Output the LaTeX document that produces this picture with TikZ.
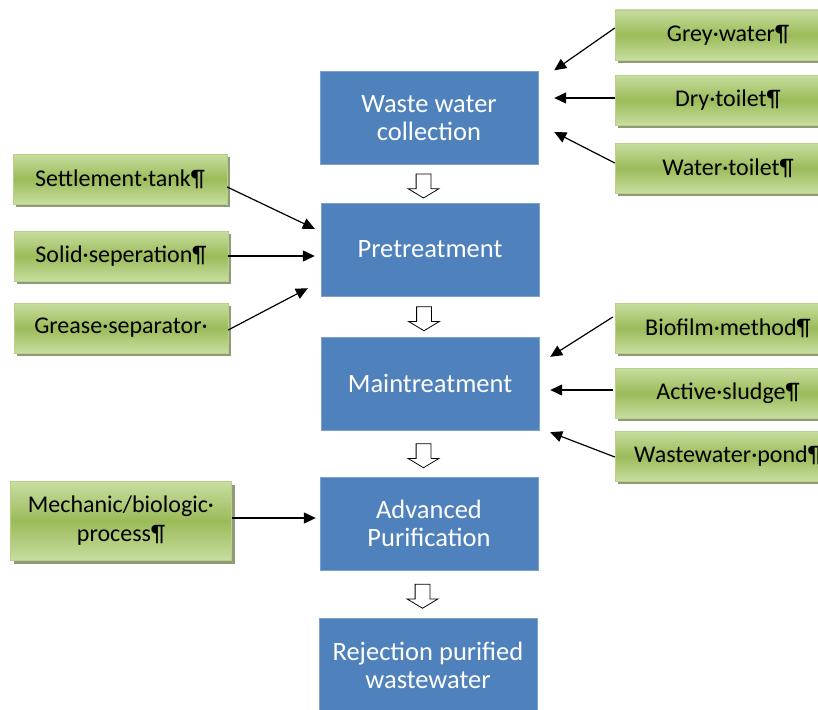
\documentclass[tikz,border=0pt]{standalone}
\usepackage{fontspec}
\setmainfont{Carlito}
\usetikzlibrary{shapes.arrows, arrows.meta, positioning, calc, shadows}

\definecolor{stageblue}{RGB}{79,129,189}
\definecolor{stageedge}{RGB}{125,160,205}
\definecolor{leaftop}{RGB}{200,222,160}
\definecolor{leafmid}{RGB}{155,187,89}
\definecolor{leafedge}{RGB}{185,208,140}
\definecolor{leafshadow}{RGB}{95,112,60}

\begin{document}
\begin{tikzpicture}[x=1pt, y=-1pt, align=center, font=\fontsize{24}{29}\selectfont,
    stage/.style={draw=stageedge, fill=stageblue, text=white, minimum width=218pt, minimum height=93pt, inner sep=2pt, font=\fontsize{26.5}{28}\selectfont},
    factor/.style={draw=leafedge, top color=leaftop, bottom color=leaftop, middle color=leafmid, minimum width=214pt, minimum height=50pt, inner sep=2pt,
        drop shadow={shadow xshift=3pt, shadow yshift=-3pt, fill=leafshadow, opacity=0.7}},
    arrow/.style={-{Triangle[length=12pt, width=11pt]}, line width=1.2pt},
    flow/.style={single arrow, draw, fill=white, rotate=-90, minimum height=24pt, minimum width=30pt, inner xsep=0pt, inner ysep=7pt,
        single arrow head extend=8pt, single arrow tip angle=118, line width=0.8pt}
]
    \useasboundingbox (0,0) rectangle (818,709);

    % main chain
    \node[stage] (collect) at (429,118) {Waste water\\collection};
    \node[stage] (pre) at (430,249.5) {Pretreatment};
    \node[stage] (main) at (430,383.5) {Maintreatment};
    \node[stage] (adv) at (429,523.5) {Advanced\\Purification};
    \node[stage, minimum height=94pt] (rej) at (428,665) {Rejection purified\\wastewater};

    \foreach \a/\b in {collect/pre, pre/main, main/adv, adv/rej}
        \node[flow] (f-\a) at ($(\a.south)!0.5!(\b.north)+(-6,0)$) {};

    % inputs
    \node[factor, minimum width=226pt] (grey) at (728,35) {Grey·water¶};
    \node[factor, minimum width=226pt] (dry) at (728,100) {Dry·toilet¶};
    \node[factor, minimum width=226pt] (wc) at (728,168) {Water·toilet¶};

    \node[factor] (settle) at (120,179) {Settlement·tank¶};
    \node[factor] (solid) at (121,256) {Solid·seperation¶};
    \node[factor] (grease) at (121,328) {Grease·separator·};

    \node[factor, minimum width=226pt] (bio) at (728,328) {Biofilm·method¶};
    \node[factor, minimum width=226pt] (sludge) at (728,393) {Active·sludge¶};
    \node[factor, minimum width=226pt] (pond) at (728,456) {Wastewater·pond¶};

    \node[factor, minimum width=221pt, minimum height=79pt] (mech) at (121,521) {Mechanic/biologic·\\process¶};

    % connectors
    \draw[arrow] ($(grey.west)+(0,-7)$) -- ($(collect.north east)+(16,-1)$);
    \draw[arrow] ($(dry.west)+(0,-2)$) -- ($(collect.east |- dry.west)+(16,-2)$);
    \draw[arrow] ($(wc.west)+(0,-5)$) -- ($(collect.east)+(16,14)$);

    \draw[arrow] ($(settle.east)+(0,8)$) -- ($(pre.north west)+(-6,26)$);
    \draw[arrow] (solid.east) -- ($(pre.west |- solid.east)+(-6,0)$);
    \draw[arrow] ($(grease.east)+(0,2)$) -- ($(pre.south west)+(-13,-8)$);

    \draw[arrow] ($(bio.west)+(-2,-11)$) -- ($(main.north east)+(11,20)$);
    \draw[arrow] ($(sludge.west)+(-2,-3)$) -- ($(main.east |- sludge.west)+(11,-3)$);
    \draw[arrow] ($(pond.west)+(0,1)$) -- ($(main.south east)+(11,2)$);

    \draw[arrow] ($(mech.east)+(0,-3)$) -- ($(adv.west |- mech.east)+(-4,-3)$);
\end{tikzpicture}
\end{document}
